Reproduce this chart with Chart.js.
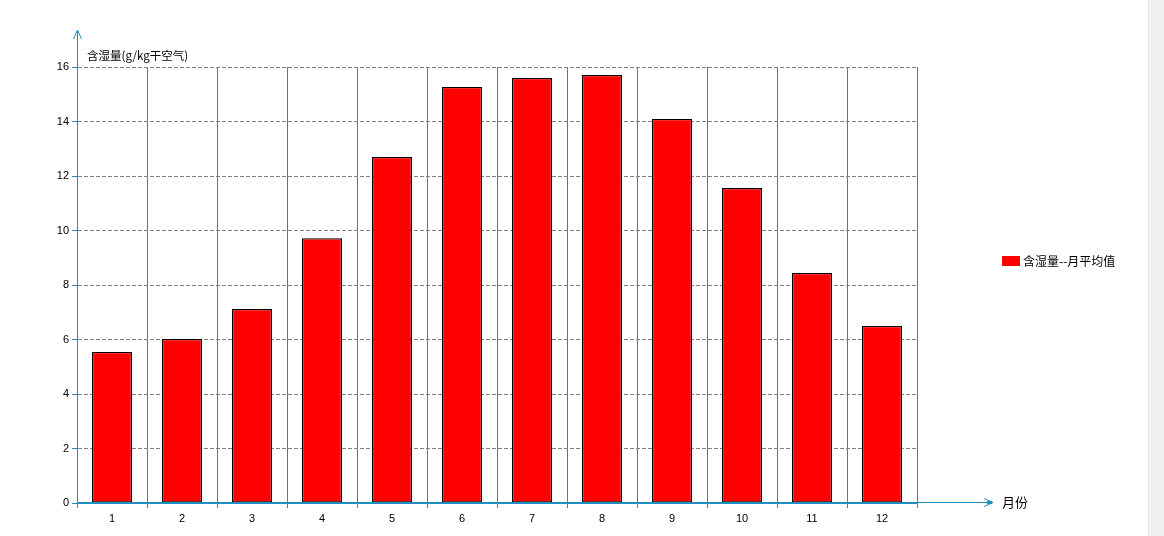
<!DOCTYPE html>
<html>
<head>
<meta charset="utf-8">
<script src="https://cdn.jsdelivr.net/npm/chart.js@4"></script>
<style>
  html, body { margin: 0; padding: 0; background: #fff; overflow: hidden; }
  #wrap { position: relative; width: 1148px; height: 536px; }
  #bar { position: absolute; left: 1148px; top: 0; width: 16px; height: 536px; background: #f0f0f0; border-left: 1px solid #e4e4e4; box-sizing: border-box; }
</style>
</head>
<body>
<div id="wrap"><canvas id="c" width="1148" height="536"></canvas></div>
<div id="bar"></div>
<script>
// 数据
const months = ['1', '2', '3', '4', '5', '6', '7', '8', '9', '10', '11', '12'];
const humidity = [5.54, 6.02, 7.12, 9.72, 12.70, 15.27, 15.60, 15.71, 14.09, 11.56, 8.44, 6.50];
const seriesName = '含湿量--月平均值';
const yTitle = '含湿量(g/kg干空气)';
const xTitle = '月份';

const AXIS = '#1f8fbf';
const FONT = '"Liberation Sans", Arial, "Noto Sans CJK SC", sans-serif';
const CJK = '"Noto Sans CJK SC", "Liberation Sans", sans-serif';

// 轴箭头、轴标题、图例
const decor = {
  id: 'decor',
  afterDraw(chart) {
    const { ctx, chartArea: a } = chart;
    const ds = chart.data.datasets[0];
    ctx.save();
    ctx.strokeStyle = AXIS;
    ctx.fillStyle = AXIS;
    ctx.lineWidth = 1;
    // y 轴延长 + 箭头
    ctx.beginPath();
    ctx.moveTo(a.left + 0.5, a.bottom);
    ctx.lineTo(a.left + 0.5, 30);
    ctx.moveTo(a.left - 3.5, 39);
    ctx.lineTo(a.left + 0.5, 30);
    ctx.lineTo(a.left + 4.5, 39);
    ctx.stroke();
    // x 轴延长 + 箭头
    const y0 = Math.round(a.bottom) - 0.5;
    ctx.beginPath();
    ctx.moveTo(a.left, y0);
    ctx.lineTo(993, y0);
    ctx.moveTo(984, y0 - 4);
    ctx.lineTo(993, y0);
    ctx.lineTo(984, y0 + 4);
    ctx.stroke();
    ctx.fillRect(987, y0 - 1.5, 5, 3);

    ctx.fillStyle = '#000';
    ctx.font = '11.5px ' + CJK;
    ctx.textBaseline = 'middle';
    ctx.textAlign = 'left';
    ctx.fillText(yTitle, a.left + 10, 56);
    ctx.font = '13px ' + CJK;
    ctx.fillText(xTitle, 1002, y0);

    // 图例
    ctx.fillStyle = ds.backgroundColor;
    ctx.fillRect(1002, 256, 18, 10);
    ctx.fillStyle = '#000';
    ctx.font = '12px ' + CJK;
    ctx.fillText(ds.label, 1023, 261);
    ctx.restore();
  }
};

new Chart(document.getElementById('c'), {
  type: 'bar',
  data: {
    labels: months,
    datasets: [{
      label: seriesName,
      data: humidity,
      backgroundColor: '#ff0000',
      borderColor: '#000000',
      borderWidth: 1.3,
      borderSkipped: false,
      barPercentage: 0.5714,
      categoryPercentage: 1.0
    }]
  },
  options: {
    responsive: false,
    animation: false,
    events: [],
    layout: { padding: { left: 0, right: 231, top: 67, bottom: 0 } },
    plugins: { legend: { display: false }, tooltip: { enabled: false } },
    scales: {
      x: {
        offset: true,
        grid: { offset: true, color: '#707070', lineWidth: 1, tickLength: 5, tickColor: AXIS },
        border: { color: AXIS, width: 1 },
        ticks: { color: '#000', font: { family: FONT, size: 11 }, padding: 4 },
        afterFit: (s) => { s.height = 33; }
      },
      y: {
        min: 0,
        max: 16,
        ticks: { stepSize: 2, color: '#000', font: { family: FONT, size: 11 }, padding: 3 },
        grid: { color: '#808080', lineWidth: 1, tickLength: 5, tickColor: AXIS },
        border: { color: AXIS, width: 1, dash: [4, 2] },
        afterFit: (s) => { s.width = 77; }
      }
    }
  },
  plugins: [decor]
});
</script>
</body>
</html>
